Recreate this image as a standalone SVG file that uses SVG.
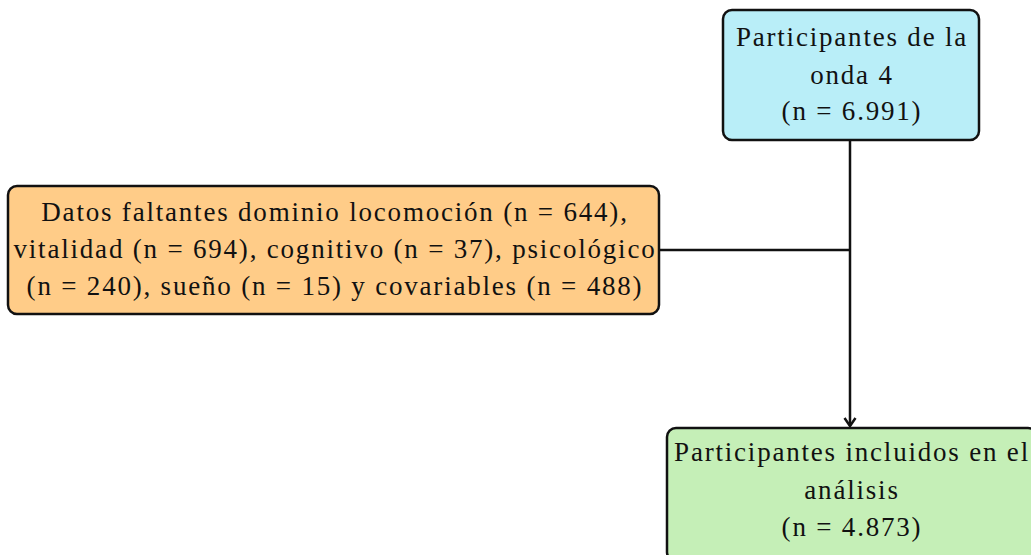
<svg xmlns="http://www.w3.org/2000/svg" width="1031" height="555" viewBox="0 0 1031 555">
<style>
.box{stroke:#111;stroke-width:2.5}
.t{font-family:"Liberation Serif","Times New Roman",serif;font-size:27px;letter-spacing:1.8px;fill:#111;text-anchor:middle}
.c{stroke:#111;stroke-width:2.5;fill:none}
</style>
<defs>
<marker id="ah" markerWidth="14" markerHeight="14" refX="10" refY="7" orient="auto" markerUnits="userSpaceOnUse">
<path d="M2,1.5 L10,7 L2,12.5" fill="none" stroke="#111" stroke-width="2.5"/>
</marker>
</defs>
<g id="connectors">
<line class="c" x1="850" y1="140" x2="850" y2="426" marker-end="url(#ah)"/>
<line class="c" x1="659" y1="250" x2="850" y2="250"/>
</g>
<g id="n1">
<rect class="box" x="723" y="10" width="256" height="130" rx="9" fill="#b9eef8"/>
<text class="t" x="852" y="46">Participantes de la</text>
<text class="t" x="852" y="84">onda 4</text>
<text class="t" x="852" y="120">(n = 6.991)</text>
</g>
<g id="n2">
<rect class="box" x="8" y="186" width="651" height="128" rx="9" fill="#ffcc88"/>
<text class="t" x="335" y="221">Datos faltantes dominio locomoción (n = 644),</text>
<text class="t" x="335" y="258">vitalidad (n = 694), cognitivo (n = 37), psicológico</text>
<text class="t" x="335" y="295">(n = 240), sueño (n = 15) y covariables (n = 488)</text>
</g>
<g id="n3">
<rect class="box" x="667" y="428" width="370" height="133" rx="9" fill="#c5efb7"/>
<text class="t" x="852" y="461">Participantes incluidos en el</text>
<text class="t" x="852" y="499">análisis</text>
<text class="t" x="852" y="536">(n = 4.873)</text>
</g>
</svg>
